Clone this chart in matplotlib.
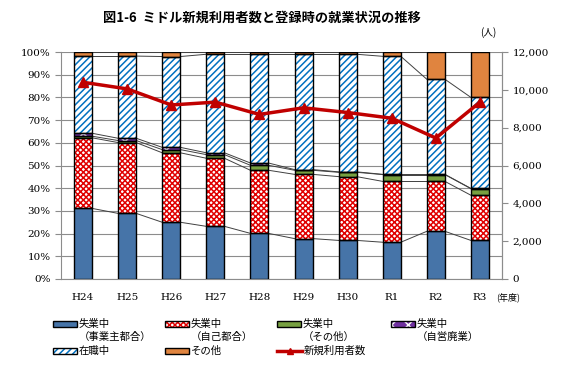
import numpy as np
import matplotlib.pyplot as plt
from matplotlib.patches import Rectangle
from matplotlib.lines import Line2D
from matplotlib.ticker import FuncFormatter

plt.rcParams['font.family'] = ['Noto Sans CJK JP', 'DejaVu Sans']
plt.rcParams['hatch.linewidth'] = 1.1

categories = ['H24', 'H25', 'H26', 'H27', 'H28', 'H29', 'H30', 'R1', 'R2', 'R3']
# 構成比 (%)
jigyonushi = [31.1, 28.9, 25.0, 23.2, 20.1, 17.8, 17.0, 16.2, 21.0, 17.0]
jiko = [31.1, 31.2, 30.6, 30.0, 27.8, 28.3, 28.1, 26.8, 22.0, 19.9]
shitsu_sonota = [0.7, 0.9, 1.4, 1.6, 2.2, 1.8, 1.9, 3.0, 3.0, 2.9]
jiei = [1.3, 1.0, 1.0, 0.8, 1.0, 0.3, 0.2, 0.1, 0.1, 0.1]
zaishoku = [34.0, 36.2, 40.0, 43.4, 47.9, 50.8, 51.8, 52.0, 41.9, 40.1]
sonota = [1.8, 1.8, 2.0, 1.0, 1.0, 1.0, 1.0, 1.9, 12.0, 20.0]
# 新規利用者数 (人)
users = [10400, 10050, 9200, 9350, 8700, 9050, 8800, 8500, 7450, 9350]

series = [
    (jigyonushi, '#4674A8', None, '#4674A8'),
    (jiko, 'white', 'xxxxxx', '#E00000'),
    (shitsu_sonota, '#77A040', None, '#77A040'),
    (jiei, '#7030A0', 'xx', 'white'),
    (zaishoku, 'white', '/////', '#0070C0'),
    (sonota, '#E0843F', None, '#E0843F'),
]
labels = ['失業中\n（事業主都合）', '失業中\n（自己都合）', '失業中\n（その他）',
          '失業中\n（自営廃業）', '在職中', 'その他']

x = np.arange(len(categories))
w = 0.41

W, H = 567, 371
fig = plt.figure(figsize=(W / 100, H / 100), dpi=100)
ax = fig.add_axes([61 / W, 1 - 279 / H, 441 / W, 227 / H])
ax.set_axisbelow(True)

bottom = np.zeros(len(categories))
for vals, fc, hatch, hc in series:
    vals = np.array(vals)
    ax.bar(x, vals, w, bottom=bottom, color=fc, hatch=hatch, edgecolor=hc, linewidth=0, zorder=2)
    ax.bar(x, vals, w, bottom=bottom, fill=False, edgecolor='black', linewidth=1.0, zorder=3)
    top = bottom + vals
    # series lines
    for i in range(len(x) - 1):
        ax.plot([x[i] + w / 2, x[i + 1] - w / 2], [top[i], top[i + 1]],
                color='#404040', lw=0.7, zorder=2.5)
    bottom = top

ax.set_xlim(-0.5, len(x) - 0.5)
ax.set_ylim(0, 100)
ax.set_yticks(np.arange(0, 101, 10))
ax.yaxis.set_major_formatter(FuncFormatter(lambda v, p: f'{int(v)}%'))
ax.grid(axis='y', color='#8C8C8C', lw=0.8)
ax.set_xticks(x)
ax.set_xticklabels(categories)
ax.spines['top'].set_visible(False)
for s in ['left', 'right', 'bottom']:
    ax.spines[s].set_color('#8C8C8C')
ax.tick_params(axis='x', length=0, pad=10)
ax.tick_params(axis='y', colors='#8C8C8C', length=4)
for t in ax.get_xticklabels() + ax.get_yticklabels():
    t.set_family('DejaVu Serif')
    t.set_fontsize(7.5)
    t.set_color('black')

ax2 = ax.twinx()
ax2.plot(x, users, color='#C00000', lw=2.5, marker='^', markersize=7, zorder=5)
ax2.set_ylim(0, 12000)
ax2.set_yticks(np.arange(0, 12001, 2000))
ax2.yaxis.set_major_formatter(FuncFormatter(lambda v, p: f'{int(v):,}'))
for s in ['top', 'left', 'bottom']:
    ax2.spines[s].set_visible(False)
ax2.spines['right'].set_color('#8C8C8C')
ax2.tick_params(axis='y', colors='#8C8C8C', length=4)
for t in ax2.get_yticklabels():
    t.set_family('DejaVu Serif')
    t.set_fontsize(7.5)
    t.set_color('black')

fig.text(262 / W, 1 - 18 / H, '図1-6  ミドル新規利用者数と登録時の就業状況の推移',
         ha='center', va='center', fontsize=9.5, fontweight='bold')
fig.text(488 / W, 1 - 33 / H, '(人)', ha='center', va='center', fontsize=7)
fig.text(496 / W, 1 - 297 / H, '(年度)', ha='left', va='center', fontsize=6.5)

# legend (manual layout, 4 columns)
col_x = [53, 165, 277, 391]
row_y = [324, 351]
slots = [(0, 0), (0, 1), (0, 2), (0, 3), (1, 0), (1, 1)]
for (vals, fc, hatch, hc), lab, (r, c) in zip(series, labels, slots):
    px, py = col_x[c], row_y[r]
    rect = dict(xy=(px / W, 1 - (py + 3) / H), width=24 / W, height=6 / H,
                transform=fig.transFigure)
    fig.add_artist(Rectangle(**rect, facecolor=fc, hatch=hatch, edgecolor=hc, linewidth=0))
    fig.add_artist(Rectangle(**rect, fill=False, edgecolor='black', linewidth=1.0))
    lines = lab.split('\n')
    fig.text((px + 26) / W, 1 - py / H, lines[0], ha='left', va='center', fontsize=7.5)
    if len(lines) > 1:
        fig.text((px + 26) / W, 1 - (py + 13) / H, lines[1], ha='left', va='center', fontsize=7.5)
px, py = col_x[2], row_y[1]
fig.add_artist(Line2D([px / W, (px + 25) / W], [1 - py / H] * 2, color='#C00000', lw=2.5,
                      transform=fig.transFigure))
fig.add_artist(Line2D([(px + 12.5) / W], [1 - py / H], color='#C00000', marker='^',
                      markersize=4, transform=fig.transFigure))
fig.text((px + 27) / W, 1 - py / H, '新規利用者数', ha='left', va='center', fontsize=7.5)

fig.savefig('out.png', dpi=100)
